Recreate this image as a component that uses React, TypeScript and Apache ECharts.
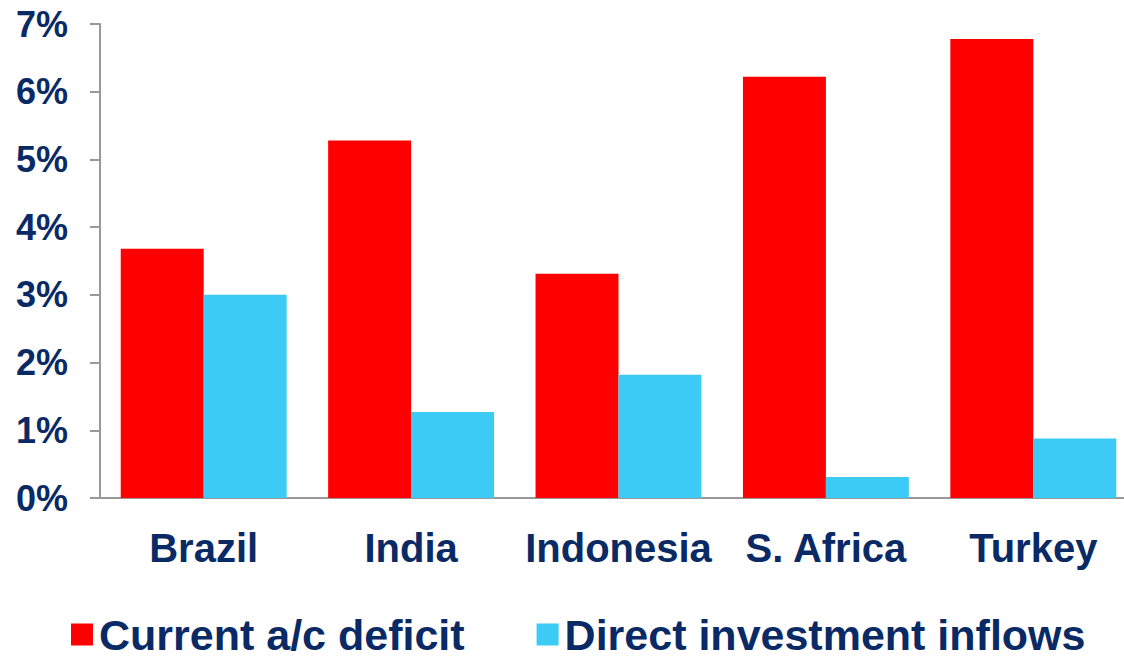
import React, { useEffect, useRef } from "react";
import * as echarts from "echarts";

const categories = ["Brazil", "India", "Indonesia", "S. Africa", "Turkey"];
const currentDeficit = [3.68, 5.28, 3.31, 6.22, 6.78];
const directInvestment = [3.0, 1.27, 1.82, 0.31, 0.88];
const seriesNames = ["Current a/c deficit", "Direct investment inflows"];

const NAVY = "#0a2a66";
const FONT = "'Liberation Sans', Arial, sans-serif";

export default function App() {
  const ref = useRef<HTMLDivElement>(null);
  useEffect(() => {
    if (!ref.current) return;
    const chart = echarts.init(ref.current, undefined, { renderer: "svg" });
    chart.setOption({
      animation: false,
      backgroundColor: "#ffffff",
      grid: {
        left: 100,
        top: 24,
        width: 1037,
        height: 474,
        containLabel: false,
        outerBoundsMode: "none",
      },
      legend: {
        data: seriesNames,
        left: 66,
        top: 608,
        itemWidth: 22,
        itemHeight: 22,
        itemGap: 72,
        itemStyle: { borderWidth: 0 },
        icon: "rect",
        textStyle: {
          color: NAVY,
          fontSize: 43,
          lineHeight: 43,
          fontWeight: "bold",
          fontFamily: FONT,
          padding: [0, 0, 0, 1],
        },
      },
      xAxis: {
        type: "category",
        data: categories,
        axisLine: { show: true, lineStyle: { color: "#999999", width: 2 } },
        axisTick: { show: false },
        axisLabel: {
          interval: 0,
          color: NAVY,
          fontSize: 40,
          fontWeight: "bold",
          fontFamily: FONT,
          margin: 30,
        },
      },
      yAxis: {
        type: "value",
        min: 0,
        max: 7,
        interval: 1,
        splitLine: { show: false },
        axisLine: { show: true, lineStyle: { color: "#999999", width: 2 } },
        axisTick: { show: true, length: 10, lineStyle: { color: "#999999", width: 2 } },
        axisLabel: {
          formatter: "{value}%",
          color: NAVY,
          fontSize: 36,
          fontWeight: "bold",
          fontFamily: FONT,
          margin: 32,
        },
      },
      series: [
        {
          name: seriesNames[0],
          type: "bar",
          data: currentDeficit,
          itemStyle: { color: "#ff0000" },
          barGap: "0%",
          barCategoryGap: "20%",
        },
        {
          name: seriesNames[1],
          type: "bar",
          data: directInvestment,
          itemStyle: { color: "#3ccbf5" },
          barGap: "0%",
          barCategoryGap: "20%",
        },
      ],
    });
    return () => chart.dispose();
  }, []);
  return (
    <div
      ref={ref}
      style={{ position: "fixed", left: 0, top: 0, width: 1124, height: 657 }}
    />
  );
}
